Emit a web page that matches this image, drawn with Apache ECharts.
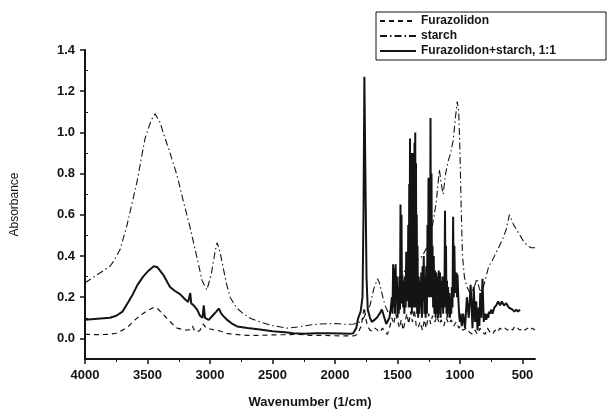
<!DOCTYPE html>
<html>
<head>
<meta charset="utf-8">
<script src="https://cdn.jsdelivr.net/npm/echarts@6/dist/echarts.min.js"></script>
<style>
html,body{margin:0;padding:0;background:#fff;}
#chart{width:608px;height:414px;}
</style>
</head>
<body>
<div id="chart"></div>
<script>
// ---- Data ----
var seriesNames = ['Furazolidon', 'starch', 'Furazolidon+starch, 1:1'];

var xTickLabels = [4000, 3500, 3000, 2500, 2000, 1500, 1000, 500];
var xMinorTicks = [3750, 3250, 2750, 2250, 1750, 1250, 750];
var yTickLabels = [0.0, 0.2, 0.4, 0.6, 0.8, 1.0, 1.2, 1.4];
var yMinorTicks = [0.1, 0.3, 0.5, 0.7, 0.9, 1.1, 1.3];

var furWn = [4000,3900,3800,3750,3700,3650,3600,3550,3500,3450,3420,3380,3343,3300,3263,3200,3160,3140,3125,3103,3080,3055,3030,2975,2919,2870,2815,2700,2600,2500,2400,2300,2200,2100,2000,1900,1850,1820,1790,1775,1765,1755,1740,1720,1700,1680,1660,1640,1620,1600,1580,1560,1545,1530,1515,1500,1485,1470,1455,1440,1425,1410,1395,1380,1365,1350,1335,1320,1300,1285,1270,1250,1235,1220,1200,1185,1165,1150,1130,1110,1090,1070,1050,1030,1010,995,975,950,925,900,880,860,840,820,800,780,760,740,720,700,680,660,640,620,600,580,560,540,520,500,480,460,440,420,400];
var furAbs = [0.02,0.018,0.02,0.025,0.04,0.06,0.09,0.115,0.135,0.15,0.145,0.12,0.096,0.07,0.05,0.04,0.042,0.06,0.04,0.03,0.04,0.07,0.05,0.043,0.036,0.025,0.02,0.015,0.015,0.017,0.018,0.02,0.015,0.015,0.013,0.012,0.012,0.02,0.06,0.12,0.15,0.1,0.06,0.04,0.035,0.05,0.04,0.03,0.05,0.03,0.02,0.06,0.1,0.07,0.12,0.09,0.05,0.09,0.04,0.08,0.12,0.07,0.13,0.08,0.14,0.06,0.05,0.08,0.04,0.09,0.05,0.12,0.07,0.11,0.08,0.11,0.07,0.09,0.06,0.1,0.07,0.09,0.06,0.08,0.05,0.06,0.04,0.05,0.03,0.02,0.04,0.02,0.05,0.03,0.02,0.05,0.03,0.02,0.04,0.03,0.05,0.04,0.05,0.04,0.05,0.04,0.06,0.05,0.04,0.05,0.04,0.05,0.04,0.05,0.04];

var starchWn = [4000,3900,3800,3776,3720,3664,3584,3520,3470,3440,3400,3375,3320,3263,3215,3160,3103,3063,3025,2990,2960,2943,2920,2895,2870,2839,2790,2735,2670,2600,2500,2383,2300,2200,2119,2000,1900,1850,1800,1770,1720,1690,1660,1645,1625,1600,1570,1540,1500,1460,1420,1380,1340,1300,1260,1220,1190,1165,1150,1135,1115,1095,1075,1055,1035,1022,1010,1000,990,980,965,945,920,890,865,845,825,800,770,740,700,660,630,605,590,570,550,520,490,460,430,400];
var starchAbs = [0.27,0.31,0.35,0.37,0.43,0.55,0.76,0.97,1.06,1.09,1.05,1.0,0.9,0.79,0.67,0.54,0.39,0.28,0.235,0.31,0.42,0.465,0.42,0.345,0.27,0.2,0.15,0.12,0.095,0.08,0.062,0.05,0.055,0.065,0.07,0.072,0.068,0.07,0.08,0.1,0.16,0.24,0.29,0.27,0.22,0.16,0.12,0.15,0.22,0.3,0.37,0.4,0.38,0.4,0.45,0.55,0.66,0.82,0.75,0.7,0.8,0.86,0.9,0.96,1.08,1.15,1.1,0.9,0.62,0.4,0.3,0.25,0.22,0.24,0.29,0.24,0.22,0.28,0.35,0.38,0.43,0.48,0.53,0.6,0.58,0.55,0.53,0.5,0.47,0.45,0.44,0.44];

var mixWn = [4000,3900,3800,3750,3700,3650,3616,3580,3535,3490,3450,3420,3375,3320,3280,3240,3200,3175,3165,3158,3150,3130,3103,3080,3060,3050,3040,3010,2980,2950,2930,2910,2880,2863,2820,2783,2700,2600,2500,2400,2335,2250,2150,2050,1950,1880,1854,1830,1814,1795,1780,1772,1765,1757,1748,1738,1720,1705,1685,1665,1643,1625,1605,1590,1578,1565,1555,1545,1540,1535,1530,1525,1520,1515,1510,1505,1500,1495,1490,1485,1480,1476,1472,1468,1464,1460,1455,1450,1445,1440,1435,1430,1425,1422,1418,1414,1410,1406,1403,1400,1397,1394,1391,1388,1385,1382,1379,1376,1373,1370,1367,1364,1361,1358,1355,1352,1349,1346,1343,1340,1335,1330,1325,1320,1315,1310,1305,1300,1295,1290,1285,1280,1275,1270,1265,1260,1256,1252,1248,1244,1240,1236,1232,1228,1224,1220,1215,1210,1205,1200,1195,1190,1185,1180,1175,1170,1165,1160,1155,1150,1145,1140,1135,1130,1125,1120,1116,1112,1108,1104,1100,1095,1090,1085,1080,1075,1070,1065,1060,1055,1050,1045,1040,1036,1032,1028,1024,1020,1015,1010,1005,1000,995,990,985,975,960,945,930,915,900,890,880,870,860,850,845,838,830,820,810,800,790,780,774,768,760,750,740,725,710,695,680,665,650,630,610,595,580,565,550,535,520,500,480,460,440,420,400];
var mixAbs = [0.09,0.095,0.1,0.11,0.13,0.18,0.216,0.26,0.3,0.33,0.35,0.345,0.31,0.25,0.23,0.215,0.19,0.177,0.17,0.22,0.17,0.16,0.14,0.11,0.1,0.16,0.1,0.09,0.11,0.13,0.145,0.12,0.1,0.09,0.07,0.058,0.05,0.043,0.035,0.03,0.025,0.022,0.025,0.025,0.024,0.022,0.025,0.05,0.1,0.13,0.2,0.6,1.27,0.8,0.3,0.14,0.1,0.08,0.09,0.1,0.12,0.14,0.1,0.07,0.07,0.1,0.14,0.2,0.12,0.36,0.15,0.34,0.12,0.36,0.18,0.3,0.1,0.25,0.12,0.3,0.14,0.65,0.2,0.6,0.17,0.3,0.15,0.28,0.12,0.3,0.15,0.42,0.2,0.4,0.18,0.55,0.15,0.75,0.2,0.97,0.15,0.85,0.2,0.9,0.12,0.65,0.18,0.9,0.15,0.75,0.2,0.95,0.15,1.0,0.25,0.85,0.15,0.6,0.12,0.45,0.1,0.3,0.12,0.28,0.15,0.32,0.1,0.35,0.18,0.4,0.12,0.3,0.1,0.35,0.12,0.55,0.2,0.78,0.25,0.7,0.2,1.07,0.3,0.8,0.2,0.45,0.15,0.4,0.12,0.33,0.1,0.32,0.12,0.3,0.1,0.33,0.12,0.32,0.1,0.28,0.15,0.3,0.12,0.3,0.15,0.62,0.2,0.45,0.12,0.28,0.1,0.25,0.12,0.22,0.1,0.2,0.12,0.25,0.15,0.59,0.2,0.45,0.22,0.3,0.25,0.32,0.2,0.31,0.22,0.15,0.1,0.08,0.12,0.08,0.06,0.12,0.05,0.2,0.1,0.26,0.05,0.25,0.08,0.18,0.04,0.15,0.06,0.22,0.1,0.29,0.08,0.12,0.09,0.12,0.1,0.13,0.12,0.14,0.12,0.15,0.16,0.18,0.16,0.18,0.16,0.17,0.15,0.15,0.14,0.13,0.14,0.13,0.14];

function pairs(wn, ab){ return wn.map(function(w,i){ return [w, ab[i]]; }); }

var FONT = '"Liberation Sans", Arial, sans-serif';
var INK = '#141414';

var chart = echarts.init(document.getElementById('chart'), null, {renderer:'canvas'});
var option = {
  animation: false,
  backgroundColor: '#fff',
  grid: { left: 85, right: 73, top: 50, bottom: 51, containLabel: false },
  legend: {
    orient: 'vertical',
    left: 376, top: 12,
    padding: [3, 50, 3, 3],
    itemGap: 3,
    itemWidth: 36, itemHeight: 12,
    borderColor: INK, borderWidth: 1,
    itemStyle: { opacity: 0 },
    textStyle: { fontFamily: FONT, fontWeight: 'bold', fontSize: 12, color: INK },
    data: seriesNames
  },
  xAxis: [{
    type: 'value', inverse: true, min: 400, max: 4000, position: 'bottom',
    axisLine: { show: true, onZero: false, lineStyle: { color: INK, width: 2 } },
    axisTick: { show: true, inside: false, length: 5, customValues: xTickLabels, lineStyle: { color: INK, width: 1.5 } },
    axisLabel: { customValues: xTickLabels, margin: 10, fontFamily: FONT, fontWeight: 'bold', fontSize: 13, color: INK,
                 formatter: function(v){ return String(v); } },
    splitLine: { show: false },
    name: 'Wavenumber (1/cm)', nameLocation: 'middle', nameGap: 37,
    nameTextStyle: { fontFamily: FONT, fontWeight: 'bold', fontSize: 13, color: INK }
  }, {
    type: 'value', inverse: true, min: 400, max: 4000, position: 'bottom',
    axisLine: { show: false, onZero: false },
    axisTick: { show: true, inside: false, length: 3, customValues: xMinorTicks, lineStyle: { color: INK, width: 1 } },
    axisLabel: { show: false },
    splitLine: { show: false }
  }],
  yAxis: [{
    type: 'value', min: -0.1, max: 1.4, position: 'left',
    axisLine: { show: true, onZero: false, lineStyle: { color: INK, width: 2 } },
    axisTick: { show: true, inside: false, length: 5, customValues: yTickLabels, lineStyle: { color: INK, width: 1.5 } },
    axisLabel: { customValues: yTickLabels, margin: 10, fontFamily: FONT, fontWeight: 'bold', fontSize: 13, color: INK,
                 formatter: function(v){ return v.toFixed(1); } },
    splitLine: { show: false },
    name: 'Absorbance', nameLocation: 'middle', nameGap: 64,
    nameTextStyle: { fontFamily: FONT, fontSize: 12, color: INK }
  }, {
    type: 'value', min: -0.1, max: 1.4, position: 'left',
    axisLine: { show: false, onZero: false },
    axisTick: { show: true, inside: true, length: 3, customValues: yMinorTicks, lineStyle: { color: INK, width: 1 } },
    axisLabel: { show: false },
    splitLine: { show: false }
  }],
  series: [{
    name: seriesNames[0], type: 'line', symbol: 'none', xAxisIndex: 0, yAxisIndex: 0,
    lineStyle: { color: INK, width: 1.2, type: [5, 4] },
    itemStyle: { color: INK },
    data: pairs(furWn, furAbs), z: 3
  }, {
    name: seriesNames[1], type: 'line', symbol: 'none', xAxisIndex: 0, yAxisIndex: 0,
    lineStyle: { color: INK, width: 1.1, type: [7, 3, 1.5, 3] },
    itemStyle: { color: INK },
    data: pairs(starchWn, starchAbs), z: 3
  }, {
    name: seriesNames[2], type: 'line', symbol: 'none', xAxisIndex: 0, yAxisIndex: 0,
    lineStyle: { color: INK, width: 2, type: 'solid' },
    itemStyle: { color: INK },
    data: pairs(mixWn, mixAbs), z: 4
  }]
};
chart.setOption(option);
</script>
</body>
</html>
